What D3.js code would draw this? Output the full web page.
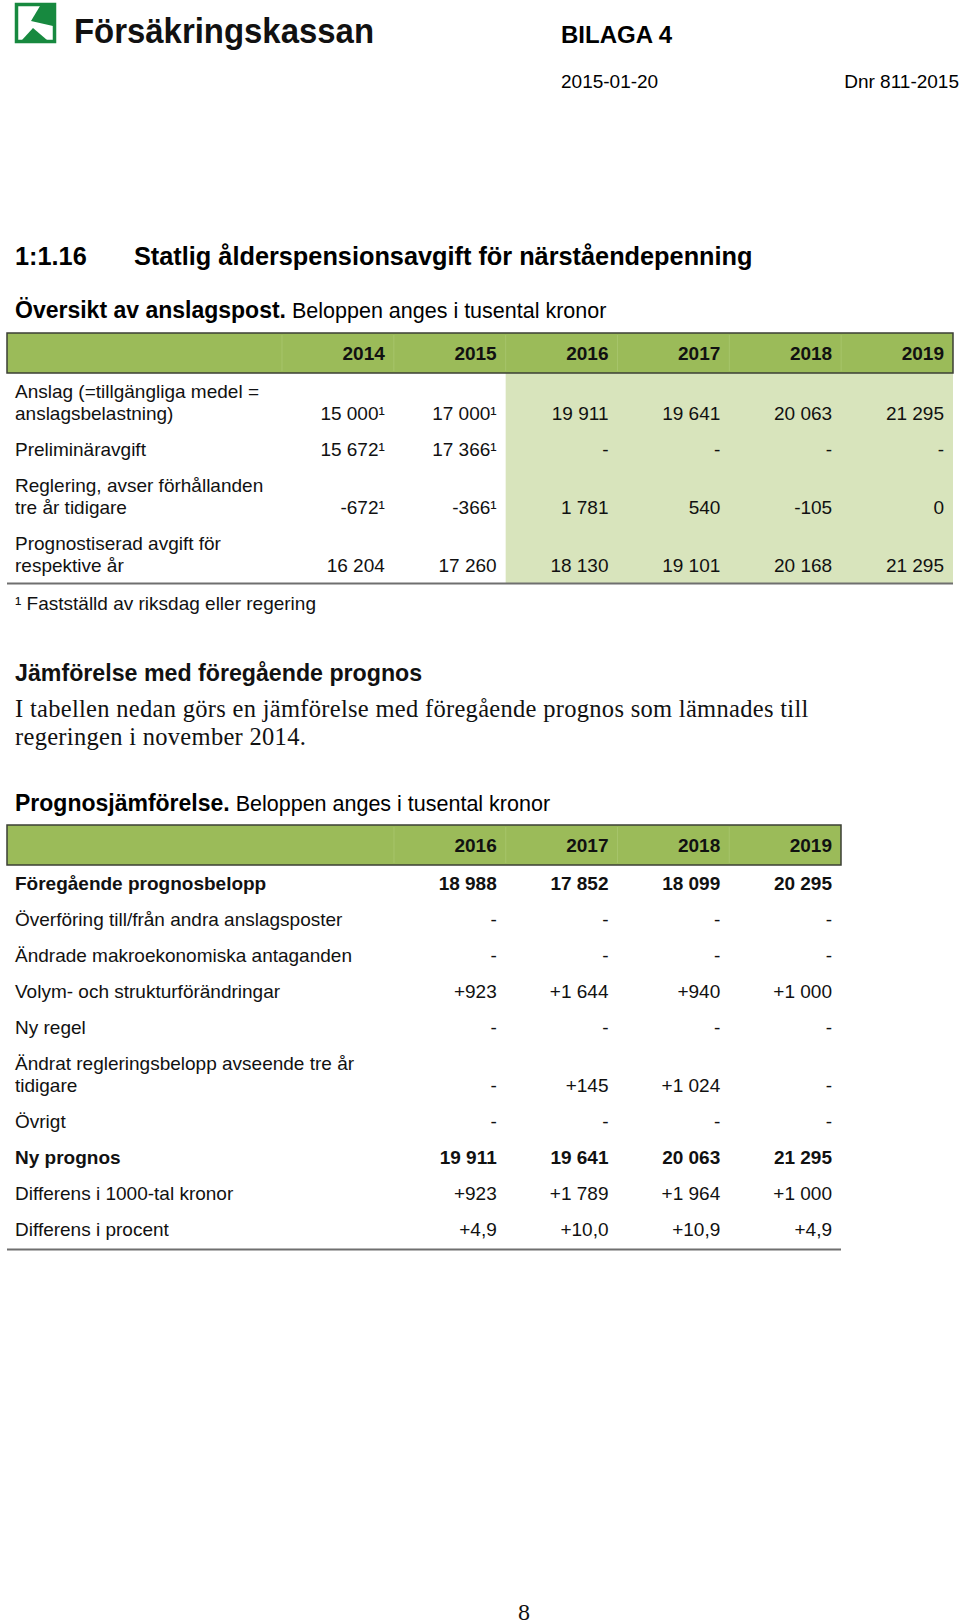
<!DOCTYPE html>
<html><head><meta charset="utf-8">
<script src="https://cdn.jsdelivr.net/npm/d3@7"></script>
<style>
html,body{margin:0;padding:0;background:#fff;}
svg{display:block;}
</style>
</head><body>
<div id="chart"></div>
<script>
// ---------- DATA ----------
const years1 = ["2014", "2015", "2016", "2017", "2018", "2019"];
const forecastYears1 = ["2016", "2017", "2018", "2019"];
const rowLabels1 = [
  ["Anslag (=tillgängliga medel =", "anslagsbelastning)"],
  ["Preliminäravgift"],
  ["Reglering, avser förhållanden", "tre år tidigare"],
  ["Prognostiserad avgift för", "respektive år"]
];
const anslag = ["15 000¹", "17 000¹", "19 911", "19 641", "20 063", "21 295"];
const preliminar = ["15 672¹", "17 366¹", "-", "-", "-", "-"];
const reglering = ["-672¹", "-366¹", "1 781", "540", "-105", "0"];
const prognostiserad = ["16 204", "17 260", "18 130", "19 101", "20 168", "21 295"];
const table1Values = [anslag, preliminar, reglering, prognostiserad];

const years2 = ["2016", "2017", "2018", "2019"];
const rowLabels2 = [
  ["Föregående prognosbelopp"],
  ["Överföring till/från andra anslagsposter"],
  ["Ändrade makroekonomiska antaganden"],
  ["Volym- och strukturförändringar"],
  ["Ny regel"],
  ["Ändrat regleringsbelopp avseende tre år", "tidigare"],
  ["Övrigt"],
  ["Ny prognos"],
  ["Differens i 1000-tal kronor"],
  ["Differens i procent"]
];
const boldRows2 = [true, false, false, false, false, false, false, true, false, false];
const foregaende = ["18 988", "17 852", "18 099", "20 295"];
const overforing = ["-", "-", "-", "-"];
const makro = ["-", "-", "-", "-"];
const volym = ["+923", "+1 644", "+940", "+1 000"];
const nyRegel = ["-", "-", "-", "-"];
const andratRegl = ["-", "+145", "+1 024", "-"];
const ovrigt = ["-", "-", "-", "-"];
const nyPrognos = ["19 911", "19 641", "20 063", "21 295"];
const diff1000 = ["+923", "+1 789", "+1 964", "+1 000"];
const diffProcent = ["+4,9", "+10,0", "+10,9", "+4,9"];
const table2Values = [foregaende, overforing, makro, volym, nyRegel, andratRegl, ovrigt, nyPrognos, diff1000, diffProcent];

// ---------- SETUP ----------
const W = 960, H = 1624;
const SANS = "'Liberation Sans', Arial, Helvetica, sans-serif";
const SERIF = "'Liberation Serif', 'Times New Roman', serif";
const GREEN = "#9bbb59", LIGHT = "#d8e4bc", LOGO = "#17893f";

const svg = d3.select("#chart").append("svg")
  .attr("width", W).attr("height", H).attr("viewBox", `0 0 ${W} ${H}`);
svg.append("rect").attr("width", W).attr("height", H).attr("fill", "#fff");

// ---------- HEADER / LOGO ----------
const logo = svg.append("g");
logo.append("rect").attr("x", 16.5).attr("y", 4.5).attr("width", 38).attr("height", 37)
  .attr("fill", "#fff").attr("stroke", LOGO).attr("stroke-width", 3.5);
logo.append("polygon").attr("points", "40,6 53,6 53,26 31,21").attr("fill", LOGO);
logo.append("polygon").attr("points", "22,40 47,40 33,28").attr("fill", LOGO);

svg.append("text").attr("x", 74).attr("y", 43)
  .attr("font-family", SANS).attr("font-weight", "bold").attr("font-size", 35)
  .attr("textLength", 300).attr("lengthAdjust", "spacingAndGlyphs")
  .attr("fill", "#111").text("Försäkringskassan");

svg.append("text").attr("x", 561).attr("y", 43)
  .attr("font-family", SANS).attr("font-weight", "bold").attr("font-size", 24)
  .attr("fill", "#000").text("BILAGA 4");
svg.append("text").attr("x", 561).attr("y", 88)
  .attr("font-family", SANS).attr("font-size", 19).attr("fill", "#000").text("2015-01-20");
svg.append("text").attr("x", 959).attr("y", 88).attr("text-anchor", "end")
  .attr("font-family", SANS).attr("font-size", 19).attr("fill", "#000").text("Dnr 811-2015");

// Title
svg.append("text").attr("x", 15).attr("y", 265)
  .attr("font-family", SANS).attr("font-weight", "bold").attr("font-size", 25.3)
  .attr("fill", "#000").text("1:1.16");
svg.append("text").attr("x", 134).attr("y", 265)
  .attr("font-family", SANS).attr("font-weight", "bold").attr("font-size", 25.3)
  .attr("fill", "#000").text("Statlig ålderspensionsavgift för närståendepenning");

function caption(y, boldPart, rest) {
  const t = svg.append("text").attr("x", 15).attr("y", y)
    .attr("font-family", SANS).attr("fill", "#000");
  t.append("tspan").attr("font-weight", "bold").attr("font-size", 23).text(boldPart);
  t.append("tspan").attr("font-size", 21.5).text(" " + rest);
}
caption(318, "Översikt av anslagspost.", "Beloppen anges i tusental kronor");

// ---------- TABLE BUILDER ----------
const FS = 19, LINE = 22, STEP = 36;

function drawTable(opts) {
  const { years, labels, values, bold, left, labelRight, right, headTop, headBot, firstBase, ruleY, shaded } = opts;
  const x = d3.scaleBand().domain(years).range([labelRight, right]);
  const g = svg.append("g");

  const starts = [];
  let yb = firstBase;
  labels.forEach((l) => { starts.push(yb); yb += (l.length - 1) * LINE + STEP; });
  const lastBase = labels.map((l, i) => starts[i] + (l.length - 1) * LINE);

  if (shaded) {
    g.append("rect")
      .attr("x", x(shaded[0])).attr("y", headBot)
      .attr("width", right - x(shaded[0])).attr("height", ruleY - headBot)
      .attr("fill", LIGHT);
  }
  g.append("rect").attr("x", left).attr("y", headTop)
    .attr("width", right - left).attr("height", headBot - headTop)
    .attr("fill", GREEN).attr("stroke", "#3b3f35").attr("stroke-width", 1.5);
  g.selectAll("line.sep").data(years).enter().append("line")
    .attr("x1", d => x(d)).attr("x2", d => x(d))
    .attr("y1", headTop + 2).attr("y2", headBot - 2)
    .attr("stroke", "#a6c46a").attr("stroke-width", 1);
  g.selectAll("text.hy").data(years).enter().append("text")
    .attr("x", d => x(d) + x.bandwidth() - 9).attr("y", (headTop + headBot) / 2 + 7)
    .attr("text-anchor", "end").attr("font-family", SANS).attr("font-weight", "bold")
    .attr("font-size", FS).attr("fill", "#111").text(d => d);

  labels.forEach((lines, i) => {
    lines.forEach((ln, j) => {
      g.append("text").attr("x", 15).attr("y", starts[i] + j * LINE)
        .attr("font-family", SANS).attr("font-size", FS)
        .attr("font-weight", bold && bold[i] ? "bold" : "normal")
        .attr("fill", "#111").text(ln);
    });
  });
  values.forEach((row, i) => {
    g.selectAll(null).data(row.map((v, k) => ({ v, yr: years[k] }))).enter().append("text")
      .attr("x", d => x(d.yr) + x.bandwidth() - 9).attr("y", lastBase[i])
      .attr("text-anchor", "end").attr("font-family", SANS).attr("font-size", FS)
      .attr("font-weight", bold && bold[i] ? "bold" : "normal")
      .attr("fill", "#111").text(d => d.v);
  });
  g.append("line").attr("x1", left).attr("x2", right).attr("y1", ruleY).attr("y2", ruleY)
    .attr("stroke", "#6f6f6f").attr("stroke-width", 2);
}

drawTable({
  years: years1, labels: rowLabels1, values: table1Values, bold: null,
  left: 7, labelRight: 282, right: 953, headTop: 333, headBot: 373,
  firstBase: 398, ruleY: 583.5, shaded: forecastYears1
});

svg.append("text").attr("x", 15).attr("y", 610)
  .attr("font-family", SANS).attr("font-size", FS).attr("fill", "#111")
  .text("¹ Fastställd av riksdag eller regering");

svg.append("text").attr("x", 15).attr("y", 681)
  .attr("font-family", SANS).attr("font-weight", "bold").attr("font-size", 23.2)
  .attr("fill", "#111").text("Jämförelse med föregående prognos");

const para = ["I tabellen nedan görs en jämförelse med föregående prognos som lämnades till",
              "regeringen i november 2014."];
svg.selectAll("text.para").data(para).enter().append("text")
  .attr("x", 15).attr("y", (d, i) => 717 + i * 28)
  .attr("font-family", SERIF).attr("font-size", 24.5).attr("letter-spacing", 0.3)
  .attr("fill", "#111").text(d => d);

caption(811, "Prognosjämförelse.", "Beloppen anges i tusental kronor");

drawTable({
  years: years2, labels: rowLabels2, values: table2Values, bold: boldRows2,
  left: 7, labelRight: 394, right: 841, headTop: 825, headBot: 865,
  firstBase: 890, ruleY: 1249.5, shaded: null
});

svg.append("text").attr("x", 524).attr("y", 1620).attr("text-anchor", "middle")
  .attr("font-family", SERIF).attr("font-size", 24).attr("fill", "#111").text("8");
</script>
</body></html>
